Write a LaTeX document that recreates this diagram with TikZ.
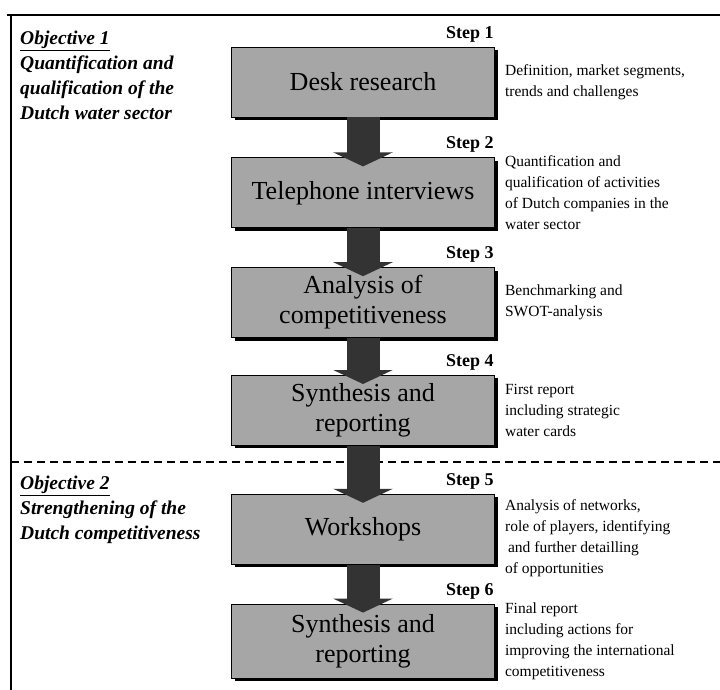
\documentclass[tikz,border=0pt]{standalone}
\usepackage{fontspec}
\setmainfont{Liberation Serif}
\usetikzlibrary{arrows.meta,positioning,shadows}

\begin{document}
\begin{tikzpicture}[
    x=1pt, y=-1pt,
    node distance=40pt,
    stage/.style={draw=black, line width=0.8pt, fill=black!35, align=center,
      minimum width=263pt, minimum height=70pt, inner sep=2pt,
      font=\fontsize{26}{30}\selectfont,
      drop shadow={shadow xshift=3pt, shadow yshift=-3pt, fill=black, opacity=1}},
    steplab/.style={font=\fontsize{18}{20}\selectfont\bfseries, inner sep=0pt},
    result/.style={align=left, inner sep=0pt, font=\fontsize{15.5}{21}\selectfont},
    goal/.style={align=left, anchor=north west, inner sep=0pt,
      font=\fontsize{19.5}{25}\selectfont\bfseries\itshape},
    flow/.style={-{Triangle[width=59pt,length=14pt]}, line width=33pt, black!80},
    rule/.style={line width=1.2pt, black}
  ]
  \useasboundingbox (0,0) rectangle (720,690);

  % frame and split between the two objectives
  \draw[rule] (7,15) -- (720,15);
  \draw[rule] (11,15) -- (11,690);
  \draw[rule, dash pattern=on 8pt off 5pt] (11,462) -- (720,462);

  \node[stage] (desk) at (363,82) {Desk research};
  \node[stage, below=40pt of desk] (phone) {Telephone interviews};
  \node[stage, below=39pt of phone] (bench) {Analysis of\\competitiveness};
  \node[stage, below=37pt of bench] (synth) {Synthesis and\\reporting};
  \node[stage, below=48pt of synth] (shop) {Workshops};
  \node[stage, below=39pt of shop, minimum height=74pt] (final) {Synthesis and\\reporting};

  \foreach \b/\n in {desk/1, phone/2, bench/3, synth/4, shop/5, final/6}
    \node[steplab, above left=4.5pt and 1pt of \b.north east] (step\n) {Step \n};

  \foreach \a/\b in {desk/phone, phone/bench, bench/synth, synth/shop, shop/final}
    \draw[flow] (\a.south) -- ([yshift=-9pt]\b.north);

  % outcomes per step
  \node[result, right=10pt of desk] (out1) {Definition, market segments,\\trends and challenges};
  \node[result, right=10pt of phone] (out2) {Quantification and\\qualification of activities\\of Dutch companies in the\\water sector};
  \node[result, right=10pt of bench] (out3) {Benchmarking and\\SWOT-analysis};
  \node[result, right=10pt of synth] (out4) {First report\\including strategic\\water cards};
  \node[result, right=10pt of shop, yshift=-9pt] (out5) {Analysis of networks,\\role of players, identifying\\\hspace{3pt}and further detailling\\of opportunities};
  \node[result, right=10pt of final] (out6) {Final report\\including actions for\\improving the international\\competitiveness};

  \node[goal] (obj1) at (20,31) {\underline{Objective 1}\\Quantification and\\qualification of the\\Dutch water sector};
  \node[goal] (obj2) at (20,476) {\underline{Objective 2}\\Strengthening of the\\Dutch competitiveness};
\end{tikzpicture}
\end{document}
